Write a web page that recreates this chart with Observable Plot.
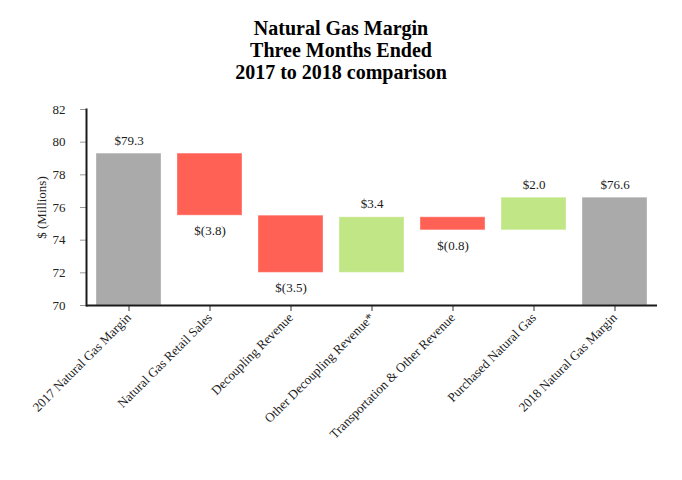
<!DOCTYPE html>
<html>
<head>
<meta charset="utf-8">
<script src="https://cdn.jsdelivr.net/npm/d3@7"></script>
<script src="https://cdn.jsdelivr.net/npm/@observablehq/plot@0.6"></script>
<style>
  body { margin: 0; background: #fff; }
  #title { width: 682px; height: 90px; box-sizing: border-box; padding-top: 17px;
    text-align: center; font-family: "Liberation Serif", "Times New Roman", serif; font-weight: bold;
    font-size: 20px; line-height: 22px; color: #000; }
  #chart svg { display: block; }
</style>
</head>
<body>
<div id="title">Natural Gas Margin<br>Three Months Ended<br>2017 to 2018 comparison</div>
<div id="chart"></div>
<script>
const categories = ["2017 Natural Gas Margin", "Natural Gas Retail Sales", "Decoupling Revenue",
  "Other Decoupling Revenue*", "Transportation & Other Revenue", "Purchased Natural Gas", "2018 Natural Gas Margin"];
const values = [79.3, -3.8, -3.5, 3.4, -0.8, 2.0, 76.6];
const kinds = ["total", "decrease", "decrease", "increase", "decrease", "increase", "total"];
const valueLabels = ["$79.3", "$(3.8)", "$(3.5)", "$3.4", "$(0.8)", "$2.0", "$76.6"];
const yTicks = [70, 72, 74, 76, 78, 80, 82];
const colors = {total: "#AAAAAA", decrease: "#FF6155", increase: "#C0E686"};

const yMin = 70, yMax = 82;
let running = 0;
const rows = categories.map((c, i) => {
  let lo, hi;
  if (kinds[i] === "total") { lo = yMin; hi = values[i]; running = values[i]; }
  else { const s = running; running = +(running + values[i]).toFixed(2); lo = Math.min(s, running); hi = Math.max(s, running); }
  return {cat: c, lo, hi, kind: kinds[i], label: valueLabels[i], above: kinds[i] !== "decrease"};
});

const font = "'Liberation Serif', 'Times New Roman', serif";
const chart = Plot.plot({
  width: 682,
  height: 390,
  marginTop: 19,
  marginBottom: 175,
  marginLeft: 86,
  marginRight: 25,
  style: {fontFamily: font, fontSize: "13px", color: "#222", background: "#fff"},
  x: {domain: categories, paddingInner: 0.2, paddingOuter: 0.1, label: null},
  y: {domain: [yMin, yMax], ticks: yTicks, label: "$ (Millions)"},
  marks: [
    Plot.rectY(rows, {x: "cat", y1: "lo", y2: "hi", fill: d => colors[d.kind], stroke: "#ffffff", strokeOpacity: 0.35, strokeWidth: 1}),
    Plot.text(rows.filter(d => d.above), {x: "cat", y: "hi", text: "label", dy: -13, fontSize: 13, fill: "#1a1a1a"}),
    Plot.text(rows.filter(d => !d.above), {x: "cat", y: "lo", text: "label", dy: 15, fontSize: 13, fill: "#1a1a1a"}),
    Plot.axisY({ticks: yTicks, tickSize: 6, tickPadding: 15, stroke: "#999", fill: "#222", fontSize: 13,
      label: "$ (Millions)", labelAnchor: "center", labelOffset: 50, labelArrow: "none"}),
    Plot.axisX({tickSize: 6, tickPadding: 4, tickRotate: -45, stroke: "#333", fill: "#222", fontSize: 13, label: null}),
    Plot.ruleY([yMin], {stroke: "#1a1a1a", strokeWidth: 2}),
    Plot.frame({anchor: "left", stroke: "#1a1a1a", strokeWidth: 2})
  ]
});
document.getElementById("chart").appendChild(chart);
</script>
</body>
</html>
